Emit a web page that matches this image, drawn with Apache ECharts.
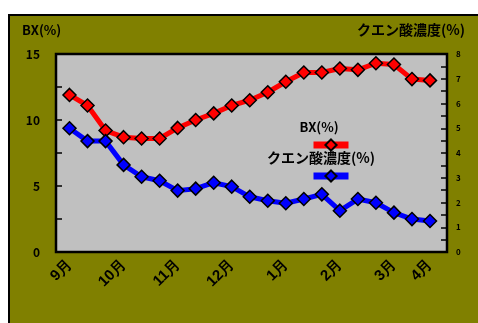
<!DOCTYPE html>
<html>
<head>
<meta charset="utf-8">
<script src="https://cdn.jsdelivr.net/npm/echarts@6/dist/echarts.min.js"></script>
<style>
  body { margin: 0; background: #fff; }
  #frame { position: absolute; left: 8px; top: 14px; width: 480px; height: 320px; background: #808000; border: 2px solid #000; }
  #chart { position: absolute; left: 0; top: 0; width: 478px; height: 323px; }
</style>
</head>
<body>
<div id="frame"></div>
<div id="chart"></div>
<script>
// x軸ラベル（旬ごと）
const monthLabels = ["9月", "", "", "10月", "", "", "11月", "", "", "12月", "", "", "1月", "", "", "2月", "", "", "3月", "", "4月"];
const bxData = [11.9, 11.1, 9.2, 8.7, 8.6, 8.6, 9.4, 10.0, 10.5, 11.1, 11.5, 12.1, 12.9, 13.6, 13.6, 13.9, 13.8, 14.3, 14.2, 13.1, 13.0];
const acidData = [5.0, 4.48, 4.48, 3.52, 3.04, 2.88, 2.48, 2.56, 2.8, 2.64, 2.23, 2.07, 1.97, 2.14, 2.33, 1.67, 2.14, 1.99, 1.59, 1.33, 1.25];
const bxName = "BX(%)";
const acidName = "クエン酸濃度(%)";

const font = '"Noto Sans CJK JP", "DejaVu Sans", sans-serif';
const chart = echarts.init(document.getElementById("chart"));

const diamond = {
  type: "line",
  symbol: "diamond",
  symbolSize: 13,
  showSymbol: true,
  showAllSymbol: true,
  animation: false,
};

const yTick = { show: true, inside: true, length: 6, lineStyle: { color: "#000", width: 1.5 } };

chart.setOption({
  backgroundColor: "transparent",
  // データ点の範囲（枠は graphic の矩形で描く）
  grid: { left: 69.5, top: 54, right: 48, bottom: 71 },
  xAxis: {
    type: "category",
    boundaryGap: false,
    data: monthLabels,
    axisLine: { show: false },
    axisTick: { show: false },
    axisLabel: { interval: 0, rotate: 45, margin: 10, color: "#000", fontSize: 15, fontWeight: "bold" },
  },
  yAxis: [
    {
      type: "value",
      min: 0, max: 15, interval: 2.5,
      offset: 13.5,
      splitLine: { show: false },
      axisLine: { show: true, onZero: false, lineStyle: { color: "#000", width: 2 } },
      axisTick: yTick,
      axisLabel: {
        formatter: (v) => (v % 5 === 0 ? String(v) : ""),
        margin: 16, color: "#000", fontSize: 12, fontWeight: "bold", fontFamily: font,
      },
    },
    {
      type: "value",
      min: 0, max: 8, interval: 0.5,
      position: "right",
      offset: 17,
      splitLine: { show: false },
      axisLine: { show: true, onZero: false, lineStyle: { color: "#000", width: 2 } },
      axisTick: yTick,
      axisLabel: {
        formatter: (v) => (Number.isInteger(v) ? String(v) : ""),
        margin: 9, color: "#000", fontSize: 8, fontWeight: "bold", fontFamily: font,
      },
    },
  ],
  legend: [
    {
      data: [bxName], left: 305, top: 133, itemWidth: 35, itemHeight: 14,
      formatter: () => "", lineStyle: { width: 7 }, selectedMode: false,
    },
    {
      data: [acidName], left: 305, top: 164, itemWidth: 35, itemHeight: 14,
      formatter: () => "", lineStyle: { width: 7 }, selectedMode: false,
    },
  ],
  graphic: [
    {
      type: "rect", z: -10,
      shape: { x: 56, y: 54, width: 391, height: 198 },
      style: { fill: "#c0c0c0", stroke: "#000", lineWidth: 2.5 },
    },
    { type: "text", left: 22, top: 24, style: { text: bxName, font: "bold 13px " + font, fill: "#000" } },
    { type: "text", right: 13, top: 23, style: { text: acidName, font: "bold 14px " + font, fill: "#000" } },
    { type: "text", x: 319, y: 127, style: { text: bxName, font: "bold 13px " + font, fill: "#000", align: "center", verticalAlign: "middle" } },
    { type: "text", x: 321, y: 158, style: { text: acidName, font: "bold 14px " + font, fill: "#000", align: "center", verticalAlign: "middle" } },
  ],
  series: [
    Object.assign({}, diamond, {
      name: bxName,
      yAxisIndex: 0,
      data: bxData,
      lineStyle: { color: "#ff0000", width: 5 },
      itemStyle: { color: "#ff0000", borderColor: "#000", borderWidth: 1.5 },
    }),
    Object.assign({}, diamond, {
      name: acidName,
      yAxisIndex: 1,
      data: acidData,
      lineStyle: { color: "#0000ff", width: 5 },
      itemStyle: { color: "#0000ff", borderColor: "#000", borderWidth: 1.5 },
    }),
  ],
});
</script>
</body>
</html>
